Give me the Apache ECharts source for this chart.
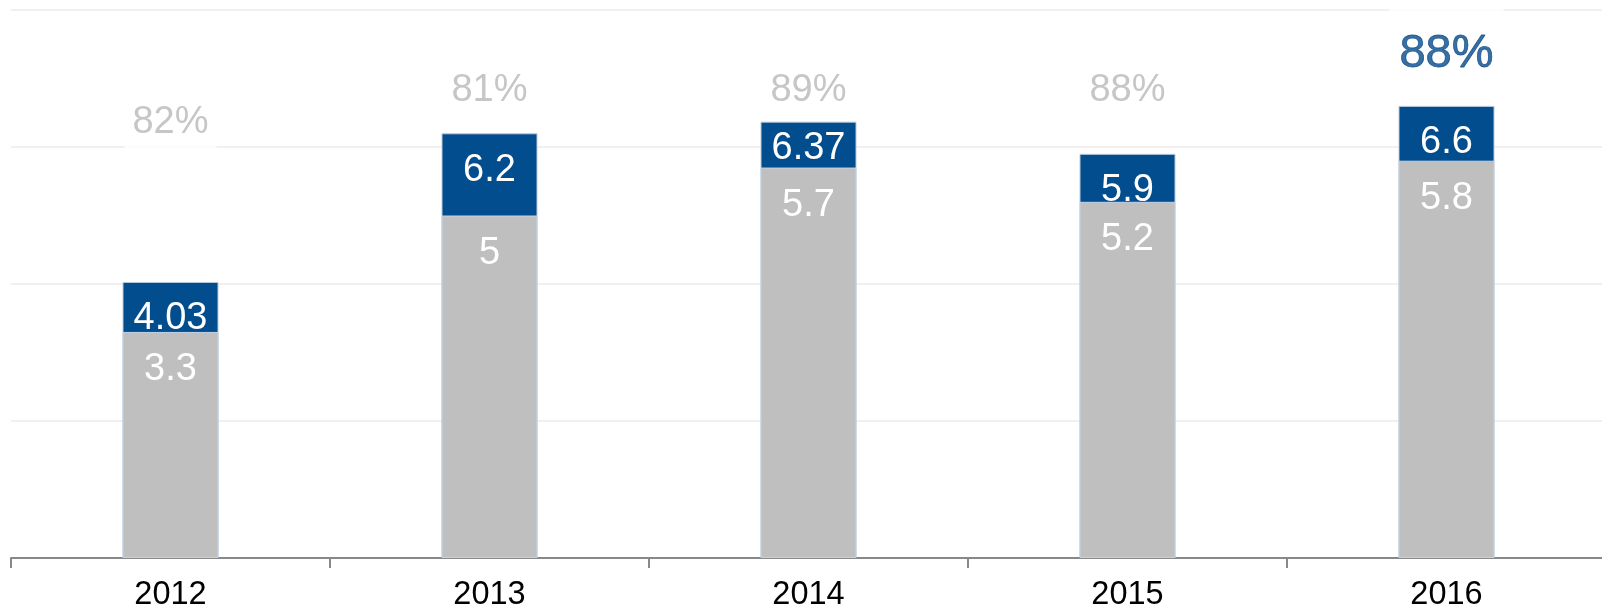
<!DOCTYPE html>
<html>
<head>
<meta charset="utf-8">
<script src="https://cdn.jsdelivr.net/npm/echarts@6/dist/echarts.min.js"></script>
<style>
  html, body { margin: 0; padding: 0; background: #fff; }
  #main { width: 1602px; height: 611px; }
</style>
</head>
<body>
<div id="main"></div>
<script>
// data
var years = ['2012', '2013', '2014', '2015', '2016'];
var totalValues = [4.03, 6.2, 6.37, 5.9, 6.6];     // blue bar tops
var baseValues = [3.3, 5, 5.7, 5.2, 5.8];          // grey part
var shareValues = [82, 81, 89, 88, 88];            // percent above bars
var shareLabelY = [6.36, 6.82, 6.82, 6.82, 7.36];  // where the percent text sits (axis units)
var highlightIndex = 4;
var raisedLabelIndex = 2;   // 6.37 sits closer to the bar top in the original

var blue = '#024d8e';
var grey = '#bfbfbf';
var font = "'Liberation Sans', Arial, sans-serif";

var chart = echarts.init(document.getElementById('main'));

var totalData = totalValues.map(function (v, i) {
    return i === raisedLabelIndex ? { value: v, label: { distance: 8 } } : v;
});

var shareData = shareValues.map(function (v, i) {
    var item = { value: [years[i], shareLabelY[i]], pct: v };
    if (i === highlightIndex) {
        item.label = {
            color: '#084a8a', fontSize: 47, padding: [26, 10],
            textBorderColor: '#084a8a', textBorderWidth: 0.8
        };
    }
    return item;
});

var option = {
    animation: false,
    grid: { left: 11, right: -4, top: 10, bottom: 53, containLabel: false, outerBoundsMode: 'none' },
    xAxis: {
        type: 'category',
        data: years,
        axisLine: { lineStyle: { color: '#888', width: 2 } },
        axisTick: { show: true, length: 10, lineStyle: { color: '#888', width: 2 } },
        axisLabel: { color: '#000', fontSize: 32.5, fontFamily: font, margin: 21 }
    },
    yAxis: {
        type: 'value',
        min: 0,
        max: 8,
        interval: 2,
        axisLabel: { show: false },
        axisLine: { show: false },
        axisTick: { show: false },
        splitLine: { lineStyle: { color: '#f0f0f0', width: 2 } }
    },
    series: [
        {
            name: 'total',
            type: 'bar',
            data: totalData,
            barWidth: 96,
            itemStyle: { color: blue, borderColor: '#b9c9dc', borderWidth: 1 },
            label: {
                show: true,
                position: 'insideTop',
                distance: 18,
                color: '#fff',
                fontSize: 38,
                fontFamily: font
            },
            silent: true
        },
        {
            name: 'base',
            type: 'bar',
            data: baseValues,
            barWidth: 96,
            barGap: '-100%',
            itemStyle: { color: grey, borderColor: '#c3d3e6', borderWidth: 1 },
            label: {
                show: true,
                position: 'insideTop',
                distance: 19,
                color: '#fff',
                fontSize: 38,
                fontFamily: font
            },
            silent: true
        },
        {
            name: 'share',
            type: 'scatter',
            data: shareData,
            symbolSize: 0,
            silent: true,
            label: {
                show: true,
                position: 'inside',
                color: '#b8b8b8',
                fontSize: 38,
                fontFamily: font,
                backgroundColor: '#fff',
                padding: [9, 8],
                formatter: function (p) { return p.data.pct + '%'; }
            }
        }
    ]
};

chart.setOption(option);
</script>
</body>
</html>
